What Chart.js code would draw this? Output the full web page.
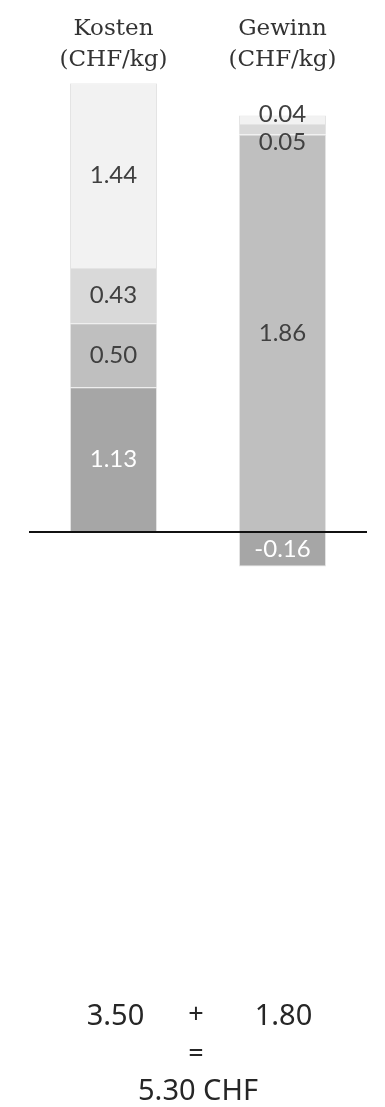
<!DOCTYPE html>
<html>
<head>
<meta charset="utf-8">
<script src="https://cdn.jsdelivr.net/npm/chart.js@4.4.1/dist/chart.umd.min.js"></script>
<style>
    html, body { margin: 0; padding: 0; background: #fff; }
    #wrap { position: relative; width: 385px; height: 1107px; }
</style>
</head>
<body>
<div id="wrap"><canvas id="chart"></canvas></div>
<script>
// Data
const categories = [['Kosten', '(CHF/kg)'], ['Gewinn', '(CHF/kg)']];
const kostenValues = [1.13, 0.50, 0.43, 1.44];
const gewinnValues = [1.86, 0.05, 0.04, -0.16];
const kostenColors = ['#a6a6a6', '#bfbfbf', '#d9d9d9', '#f2f2f2'];
const gewinnColors = ['#bfbfbf', '#d9d9d9', '#f2f2f2', '#a6a6a6'];
const totals = ['3.50', '1.80'];
const grandTotal = '5.30 CHF';

// small labels were moved by hand in the original
const labelNudge = { 'g1': 13, 'g2': -5 };

const datasets = [];
kostenValues.forEach((v, i) => {
    datasets.push({
        label: 'k' + i,
        data: [v, null],
        backgroundColor: kostenColors[i],
        borderColor: '#e4e4e4',
        borderWidth: 1,
        yAxisID: 'y'
    });
});
gewinnValues.forEach((v, i) => {
    datasets.push({
        label: 'g' + i,
        data: [null, v],
        backgroundColor: gewinnColors[i],
        borderColor: '#e4e4e4',
        borderWidth: 1,
        yAxisID: 'y2'
    });
});

const segmentLabels = {
    id: 'segmentLabels',
    afterDatasetsDraw(chart) {
        const ctx = chart.ctx;
        ctx.save();
        ctx.font = '24px Lato';
        ctx.textAlign = 'center';
        ctx.textBaseline = 'middle';
        chart.data.datasets.forEach((ds, di) => {
            const meta = chart.getDatasetMeta(di);
            meta.data.forEach((bar, idx) => {
                const v = ds.data[idx];
                if (v === null) return;
                const y = (bar.y + bar.base) / 2 + (labelNudge[ds.label] || 0);
                ctx.fillStyle = ds.backgroundColor === '#a6a6a6' ? '#ffffff' : '#404040';
                ctx.fillText(v.toFixed(2), bar.x, y);
            });
        });
        ctx.restore();
    },
    afterDraw(chart) {
        // sum line under the chart
        const ctx = chart.ctx;
        const x = chart.scales.x;
        const x0 = x.getPixelForValue(0);
        const x1 = x.getPixelForValue(1);
        const mid = (x0 + x1) / 2;
        ctx.save();
        ctx.fillStyle = '#262626';
        ctx.textAlign = 'center';
        ctx.textBaseline = 'alphabetic';
        ctx.font = '29px "Noto Sans"';
        ctx.fillText(totals[0], x0 + 2, 1025);
        ctx.fillText(totals[1], x1 + 1, 1025);
        ctx.fillText(grandTotal, mid, 1100);
        ctx.font = '27px "Noto Sans"';
        ctx.fillText('+', mid - 2, 1023);
        ctx.fillText('=', mid - 2, 1062);
        ctx.restore();
    }
};

new Chart(document.getElementById('chart'), {
    type: 'bar',
    data: { labels: categories, datasets: datasets },
    plugins: [segmentLabels],
    options: {
        responsive: true,
        maintainAspectRatio: false,
        animation: false,
        layout: { padding: { top: 0, left: 29, right: 18, bottom: 510.5 } },
        datasets: { bar: { categoryPercentage: 1, barPercentage: 0.515 } },
        plugins: { legend: { display: false }, tooltip: { enabled: false } },
        scales: {
            x: {
                position: 'top',
                stacked: true,
                grid: { display: false, drawTicks: false },
                border: { display: false },
                ticks: {
                    color: '#333333',
                    padding: 8,
                    font: { family: '"DejaVu Serif"', size: 23, lineHeight: 1.35 }
                },
                afterFit: (scale) => { scale.height = 83.3; }
            },
            y: {
                stacked: true,
                min: -0.5,
                max: 3.5,
                ticks: { display: false, stepSize: 0.5 },
                border: { display: false },
                grid: {
                    z: 1,
                    drawTicks: false,
                    lineWidth: 2,
                    color: (c) => (c.tick && c.tick.value === 0 ? '#111111' : 'rgba(0,0,0,0)')
                },
                afterFit: (scale) => { scale.width = 0; }
            },
            y2: {
                display: false,
                stacked: true,
                min: -0.3,
                max: 2.1
            }
        }
    }
});
</script>
</body>
</html>
